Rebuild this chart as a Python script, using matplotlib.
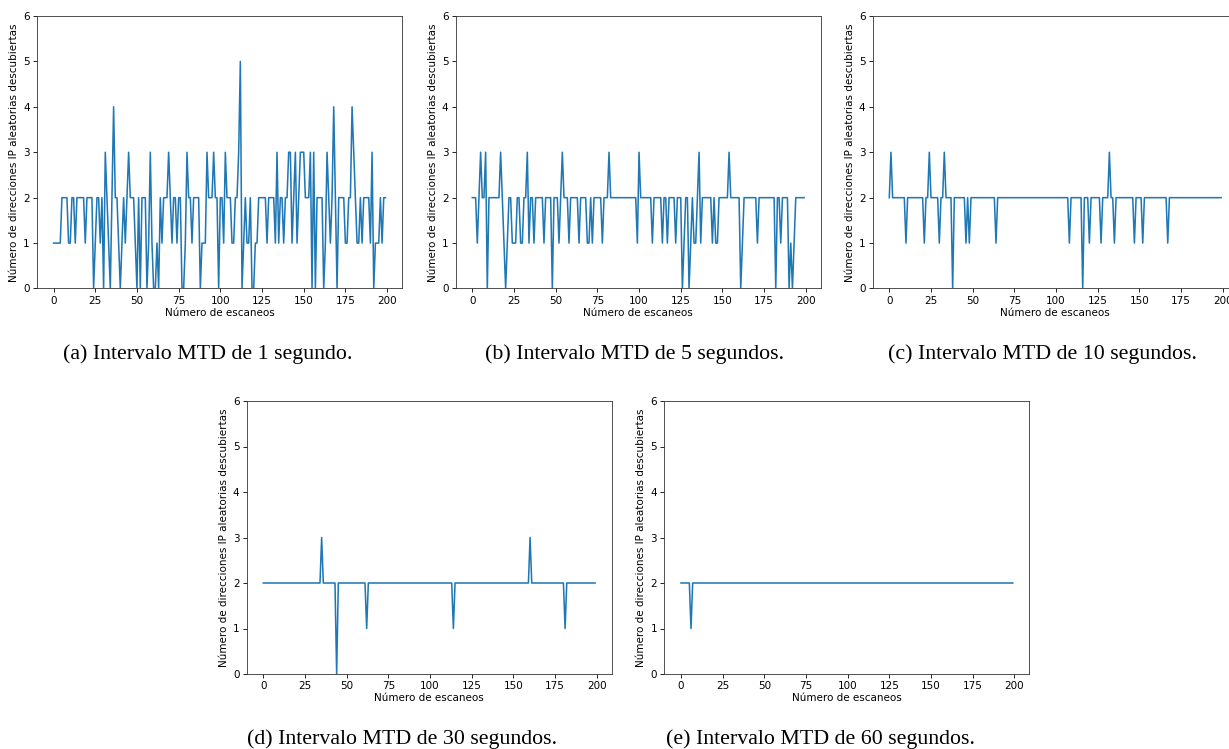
import matplotlib
matplotlib.use("Agg")
import matplotlib.pyplot as plt

# ---- data: number of random IP addresses discovered per scan ----
scans = list(range(200))

mtd_1s = [
    1, 1, 1, 1, 1, 2, 2, 2, 2, 1, 1, 2, 2, 1, 2, 2, 2, 2, 2, 1,
    2, 2, 2, 2, 0, 1, 2, 2, 1, 2, 0, 3, 2, 1, 0, 2, 4, 2, 2, 1,
    0, 1, 2, 1, 2, 3, 2, 2, 2, 1, 0, 2, 0, 2, 2, 2, 0, 1, 3, 1,
    0, 0, 1, 0, 2, 1, 2, 2, 2, 3, 2, 1, 2, 2, 1, 2, 2, 0, 0, 1,
    3, 2, 2, 1, 2, 2, 2, 2, 0, 1, 1, 1, 3, 2, 2, 2, 3, 2, 2, 0,
    2, 2, 1, 3, 2, 2, 2, 1, 1, 2, 2, 3, 5, 0, 1, 2, 1, 1, 2, 0,
    0, 1, 1, 2, 2, 2, 2, 2, 1, 2, 2, 2, 2, 1, 3, 1, 2, 2, 1, 2,
    2, 3, 3, 1, 2, 3, 1, 2, 3, 3, 3, 2, 2, 2, 3, 0, 3, 0, 2, 2,
    2, 2, 0, 1, 3, 2, 1, 2, 4, 2, 0, 2, 2, 2, 2, 1, 1, 2, 2, 4,
    3, 2, 1, 1, 2, 1, 2, 2, 2, 2, 1, 3, 0, 1, 1, 1, 2, 1, 2, 2,
]

mtd_5s = [
    2, 2, 2, 1, 2, 3, 2, 2, 3, 0, 2, 2, 2, 2, 2, 2, 2, 3, 2, 1,
    0, 1, 2, 2, 1, 1, 1, 2, 2, 1, 1, 2, 2, 3, 1, 2, 2, 1, 2, 2,
    2, 2, 2, 1, 2, 2, 2, 2, 0, 2, 2, 2, 1, 2, 3, 2, 2, 2, 1, 2,
    2, 2, 2, 2, 1, 2, 2, 2, 2, 1, 1, 2, 1, 2, 2, 2, 2, 2, 1, 2,
    2, 2, 3, 2, 2, 2, 2, 2, 2, 2, 2, 2, 2, 2, 2, 2, 2, 2, 2, 1,
    3, 2, 2, 2, 2, 2, 2, 2, 1, 2, 2, 2, 2, 2, 1, 2, 2, 1, 2, 2,
    2, 2, 1, 2, 2, 2, 0, 1, 2, 2, 0, 1, 2, 1, 1, 2, 3, 1, 2, 2,
    2, 2, 2, 2, 1, 2, 1, 1, 2, 2, 2, 2, 2, 2, 3, 2, 2, 2, 2, 2,
    2, 0, 1, 2, 2, 2, 2, 2, 2, 2, 2, 1, 2, 2, 2, 2, 2, 2, 2, 2,
    2, 2, 0, 2, 2, 1, 2, 2, 2, 2, 0, 1, 0, 1, 2, 2, 2, 2, 2, 2,
]

mtd_10s = [
    2, 3, 2, 2, 2, 2, 2, 2, 2, 2, 1, 2, 2, 2, 2, 2, 2, 2, 2, 2,
    2, 1, 2, 2, 3, 2, 2, 2, 2, 2, 1, 2, 2, 3, 2, 2, 2, 2, 0, 2,
    2, 2, 2, 2, 2, 2, 1, 2, 1, 2, 2, 2, 2, 2, 2, 2, 2, 2, 2, 2,
    2, 2, 2, 2, 1, 2, 2, 2, 2, 2, 2, 2, 2, 2, 2, 2, 2, 2, 2, 2,
    2, 2, 2, 2, 2, 2, 2, 2, 2, 2, 2, 2, 2, 2, 2, 2, 2, 2, 2, 2,
    2, 2, 2, 2, 2, 2, 2, 2, 1, 2, 2, 2, 2, 2, 2, 2, 0, 2, 2, 2,
    1, 2, 2, 2, 2, 2, 2, 1, 2, 2, 2, 2, 3, 2, 2, 1, 2, 2, 2, 2,
    2, 2, 2, 2, 2, 2, 2, 1, 2, 2, 2, 2, 1, 2, 2, 2, 2, 2, 2, 2,
    2, 2, 2, 2, 2, 2, 2, 1, 2, 2, 2, 2, 2, 2, 2, 2, 2, 2, 2, 2,
    2, 2, 2, 2, 2, 2, 2, 2, 2, 2, 2, 2, 2, 2, 2, 2, 2, 2, 2, 2,
]

mtd_30s = [
    2, 2, 2, 2, 2, 2, 2, 2, 2, 2, 2, 2, 2, 2, 2, 2, 2, 2, 2, 2,
    2, 2, 2, 2, 2, 2, 2, 2, 2, 2, 2, 2, 2, 2, 2, 3, 2, 2, 2, 2,
    2, 2, 2, 2, 0, 2, 2, 2, 2, 2, 2, 2, 2, 2, 2, 2, 2, 2, 2, 2,
    2, 2, 1, 2, 2, 2, 2, 2, 2, 2, 2, 2, 2, 2, 2, 2, 2, 2, 2, 2,
    2, 2, 2, 2, 2, 2, 2, 2, 2, 2, 2, 2, 2, 2, 2, 2, 2, 2, 2, 2,
    2, 2, 2, 2, 2, 2, 2, 2, 2, 2, 2, 2, 2, 2, 1, 2, 2, 2, 2, 2,
    2, 2, 2, 2, 2, 2, 2, 2, 2, 2, 2, 2, 2, 2, 2, 2, 2, 2, 2, 2,
    2, 2, 2, 2, 2, 2, 2, 2, 2, 2, 2, 2, 2, 2, 2, 2, 2, 2, 2, 2,
    3, 2, 2, 2, 2, 2, 2, 2, 2, 2, 2, 2, 2, 2, 2, 2, 2, 2, 2, 2,
    2, 1, 2, 2, 2, 2, 2, 2, 2, 2, 2, 2, 2, 2, 2, 2, 2, 2, 2, 2,
]

mtd_60s = [
    2, 2, 2, 2, 2, 2, 1, 2, 2, 2, 2, 2, 2, 2, 2, 2, 2, 2, 2, 2,
    2, 2, 2, 2, 2, 2, 2, 2, 2, 2, 2, 2, 2, 2, 2, 2, 2, 2, 2, 2,
    2, 2, 2, 2, 2, 2, 2, 2, 2, 2, 2, 2, 2, 2, 2, 2, 2, 2, 2, 2,
    2, 2, 2, 2, 2, 2, 2, 2, 2, 2, 2, 2, 2, 2, 2, 2, 2, 2, 2, 2,
    2, 2, 2, 2, 2, 2, 2, 2, 2, 2, 2, 2, 2, 2, 2, 2, 2, 2, 2, 2,
    2, 2, 2, 2, 2, 2, 2, 2, 2, 2, 2, 2, 2, 2, 2, 2, 2, 2, 2, 2,
    2, 2, 2, 2, 2, 2, 2, 2, 2, 2, 2, 2, 2, 2, 2, 2, 2, 2, 2, 2,
    2, 2, 2, 2, 2, 2, 2, 2, 2, 2, 2, 2, 2, 2, 2, 2, 2, 2, 2, 2,
    2, 2, 2, 2, 2, 2, 2, 2, 2, 2, 2, 2, 2, 2, 2, 2, 2, 2, 2, 2,
    2, 2, 2, 2, 2, 2, 2, 2, 2, 2, 2, 2, 2, 2, 2, 2, 2, 2, 2, 2,
]

captions = [
    "(a) Intervalo MTD de 1 segundo.",
    "(b) Intervalo MTD de 5 segundos.",
    "(c) Intervalo MTD de 10 segundos.",
    "(d) Intervalo MTD de 30 segundos.",
    "(e) Intervalo MTD de 60 segundos.",
]
series = [mtd_1s, mtd_5s, mtd_10s, mtd_30s, mtd_60s]
xlabel = "Número de escaneos"
ylabel = "Número de direcciones IP aleatorias descubiertas"

# ---- layout (pixel boxes: left, right, top, bottom) ----
W, H = 1229, 749
DPI = 75
boxes = [
    (37.0, 402.0, 16.0, 288.5),
    (455.7, 820.7, 16.0, 288.5),
    (872.7, 1237.7, 16.0, 288.5),
    (246.7, 611.7, 401.0, 674.0),
    (664.4, 1029.4, 401.0, 674.0),
]
caption_pos = [(208, 354), (635, 354), (1042, 354), (402, 739), (820, 739)]

fig = plt.figure(figsize=(W / DPI, H / DPI), dpi=DPI)
for vals, (l, r, t, b), cap, (cx, cy) in zip(series, boxes, captions, caption_pos):
    ax = fig.add_axes([l / W, 1 - b / H, (r - l) / W, (b - t) / H])
    ax.plot(scans, vals, color="#1f77b4", linewidth=1.5)
    ax.set_ylim(0, 6)
    ax.set_xlabel(xlabel, labelpad=2)
    ax.set_ylabel(ylabel)
    for s in ax.spines.values():
        s.set_color("#333333")
    fig.text(cx / W, 1 - cy / H, cap, ha="center", va="center",
             fontsize=21, family="Liberation Serif")

fig.savefig("out.png", dpi=DPI)
